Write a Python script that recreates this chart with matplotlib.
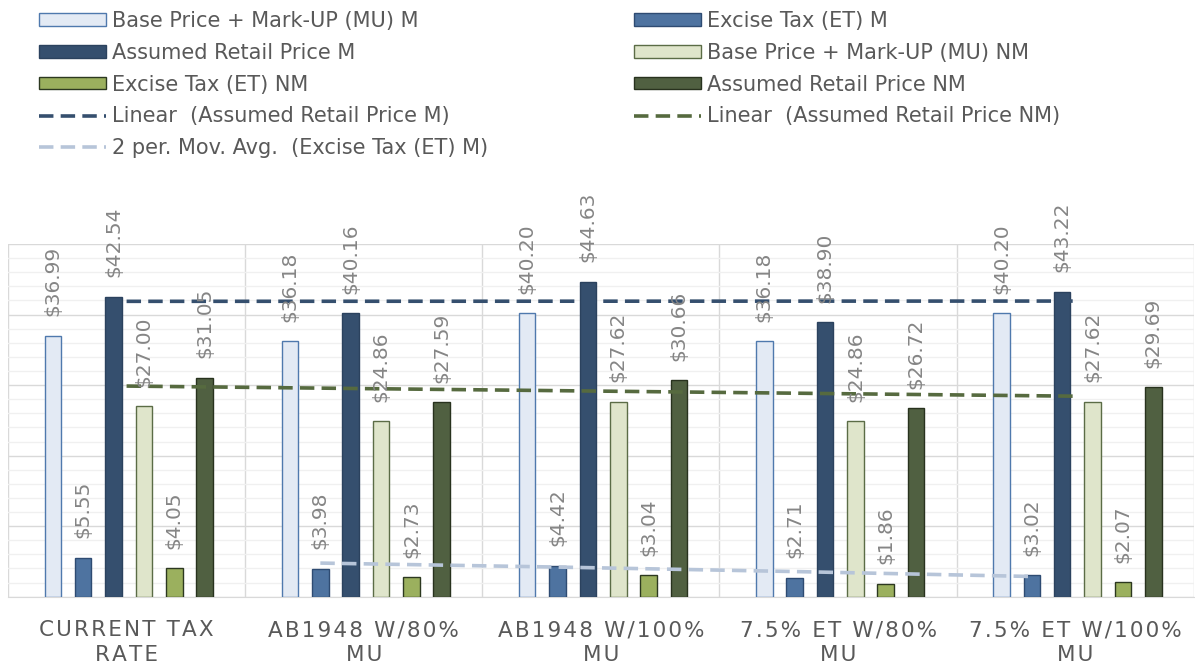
import numpy as np
import matplotlib.pyplot as plt
from matplotlib.ticker import MultipleLocator

categories = ['CURRENT TAX\nRATE', 'AB1948 W/80%\nMU', 'AB1948 W/100%\nMU',
              '7.5% ET W/80%\nMU', '7.5% ET W/100%\nMU']

base_mu_m = [36.99, 36.18, 40.20, 36.18, 40.20]
excise_m = [5.55, 3.98, 4.42, 2.71, 3.02]
retail_m = [42.54, 40.16, 44.63, 38.90, 43.22]
base_mu_nm = [27.00, 24.86, 27.62, 24.86, 27.62]
excise_nm = [4.05, 2.73, 3.04, 1.86, 2.07]
retail_nm = [31.05, 27.59, 30.66, 26.72, 29.69]

series = [
    ('Base Price + Mark-UP (MU) M', base_mu_m, '#E3EAF4', '#4F79AD'),
    ('Excise Tax (ET) M', excise_m, '#4E73A0', '#2E4B72'),
    ('Assumed Retail Price M', retail_m, '#354F6E', '#2B425E'),
    ('Base Price + Mark-UP (MU) NM', base_mu_nm, '#DFE5CB', '#5B6C46'),
    ('Excise Tax (ET) NM', excise_nm, '#9BB05E', '#2C3820'),
    ('Assumed Retail Price NM', retail_nm, '#506041', '#28321E'),
]

plt.rcParams['font.family'] = ['DejaVu Sans']


def tracked(s):
    # spread the letters out a little (hair space between characters)
    return '\n'.join('\u200a'.join(line) for line in s.split('\n'))


fig = plt.figure(figsize=(11.95, 6.63), dpi=100)
ax = fig.add_axes([0.0067, 0.100, 0.9923, 0.532])

x = np.arange(len(categories))
slot = 0.128
shift = 0.009
width = 0.07

handles = {}
for i, (name, vals, fc, ec) in enumerate(series):
    xs = x + (i - 2.5) * slot + shift
    bars = ax.bar(xs, vals, width, color=fc, edgecolor=ec, linewidth=1.0,
                  label=name, zorder=3)
    handles[name] = bars
    for xi, v in zip(xs, vals):
        ax.annotate('${:.2f}'.format(v), (xi, v), xytext=(0, 14),
                    textcoords='offset points', rotation=90, ha='center',
                    va='bottom', fontsize=14.5, color='#858585', zorder=5,
                    annotation_clip=False)

# linear trendlines at category centres
coef_m = np.polyfit(x, retail_m, 1)
coef_nm = np.polyfit(x, retail_nm, 1)
lin_m, = ax.plot(x, np.polyval(coef_m, x), color='#354F6E', lw=2.6,
                 dashes=(4, 2), zorder=4,
                 label='Linear  (Assumed Retail Price M)')
lin_nm, = ax.plot(x, np.polyval(coef_nm, x), color='#566A3F', lw=2.6,
                  dashes=(4, 2), zorder=4,
                  label='Linear  (Assumed Retail Price NM)')

# 2 period moving average of excise tax M
ma = [(excise_m[k - 1] + excise_m[k]) / 2 for k in range(1, len(excise_m))]
ma_x = x[1:] + (1 - 2.5) * slot + shift
ma_line, = ax.plot(ma_x, ma, color='#B7C5D9', lw=2.6, dashes=(4, 2), zorder=4,
                   label='2 per. Mov. Avg.  (Excise Tax (ET) M)')

ax.set_xlim(-0.5, 4.5)
ax.set_ylim(0, 50)
ax.yaxis.set_major_locator(MultipleLocator(10))
ax.yaxis.set_minor_locator(MultipleLocator(2))
ax.grid(axis='y', which='major', color='#D9D9D9', lw=1.0, zorder=0)
ax.grid(axis='y', which='minor', color='#F0F0F0', lw=1.0, zorder=0)
for b in np.arange(-0.5, 5.0, 1.0):
    ax.axvline(b, color='#D9D9D9', lw=1.0, zorder=0)
ax.tick_params(axis='y', which='both', left=False, labelleft=False)
ax.set_xticks(x)
ax.set_xticklabels([tracked(c) for c in categories], fontsize=15.5,
                   color='#595959', linespacing=1.3)
ax.tick_params(axis='x', length=0, pad=17)
for side in ['top', 'right', 'left']:
    ax.spines[side].set_visible(False)
ax.spines['bottom'].set_color('#D9D9D9')

order = [handles['Base Price + Mark-UP (MU) M'],
         handles['Assumed Retail Price M'],
         handles['Excise Tax (ET) NM'],
         lin_m, ma_line,
         handles['Excise Tax (ET) M'],
         handles['Base Price + Mark-UP (MU) NM'],
         handles['Assumed Retail Price NM'],
         lin_nm]
leg = fig.legend(order, [h.get_label() for h in order], ncol=2,
                 loc='upper left', bbox_to_anchor=(0.017, 1.012),
                 frameon=False, fontsize=15, handlelength=3.2,
                 handleheight=0.55, handletextpad=0.3, columnspacing=7.0,
                 labelspacing=0.57, labelcolor='#595959')

fig.savefig('out.png', dpi=100)
